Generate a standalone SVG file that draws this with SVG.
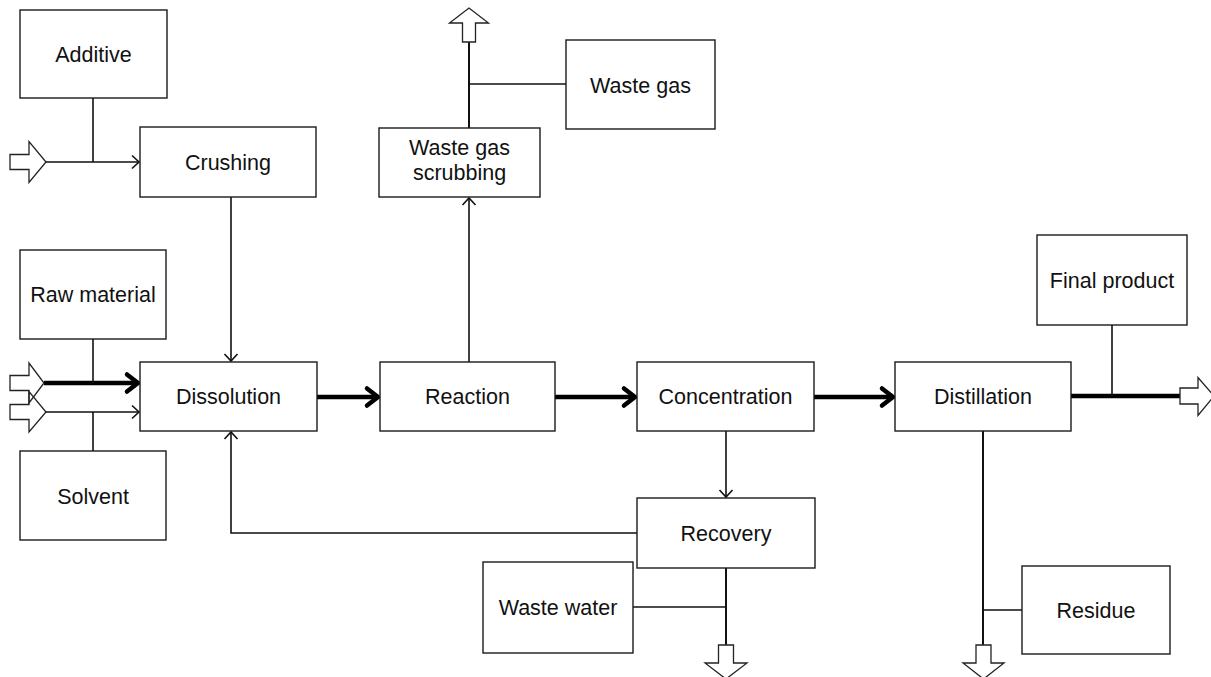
<svg xmlns="http://www.w3.org/2000/svg" width="1211" height="677" viewBox="0 0 1211 677">
  <style>
    .box { fill: #fff; stroke: #1a1a1a; stroke-width: 1.4; }
    .lbl { font-family: "Liberation Sans", Arial, sans-serif; font-size: 21.5px; fill: #111; text-anchor: middle; }
    .thin { fill: none; stroke: #111; stroke-width: 1.6; }
    .thick { fill: none; stroke: #000; stroke-width: 4.5; }
    .blk { fill: none; stroke: #222; stroke-width: 1.3; stroke-linejoin: miter; }
  </style>
  <defs>
    <marker id="ah" markerUnits="userSpaceOnUse" viewBox="-12 -10 14 20" refX="0" refY="0" markerWidth="14" markerHeight="20" orient="auto">
      <path d="M-7,-6.5 L0,0 L-7,6.5" fill="none" stroke="#111" stroke-width="1.6"/>
    </marker>
    <marker id="ahb" markerUnits="userSpaceOnUse" viewBox="-16 -12 20 24" refX="0" refY="0" markerWidth="20" markerHeight="24" orient="auto">
      <path d="M-11,-8.5 L0,0 L-11,8.5" fill="none" stroke="#000" stroke-width="4.5" stroke-linecap="round" stroke-linejoin="round"/>
    </marker>
  </defs>

  <!-- connectors -->
  <g id="connectors">
    <!-- inputs on the left -->
    <line class="thin" x1="46" y1="162" x2="139" y2="162" marker-end="url(#ah)"/>
    <line class="thin" x1="93" y1="98" x2="93" y2="162"/>
    <line class="thick" x1="44" y1="383" x2="138" y2="383" marker-end="url(#ahb)"/>
    <line class="thin" x1="93" y1="339" x2="93" y2="383"/>
    <line class="thin" x1="46" y1="412" x2="139" y2="412" marker-end="url(#ah)"/>
    <line class="thin" x1="93" y1="412" x2="93" y2="451"/>
    <!-- crushing to dissolution -->
    <line class="thin" x1="231" y1="197" x2="231" y2="361" marker-end="url(#ah)"/>
    <!-- main flow -->
    <line class="thick" x1="317" y1="397" x2="378" y2="397" marker-end="url(#ahb)"/>
    <line class="thick" x1="555" y1="397" x2="635" y2="397" marker-end="url(#ahb)"/>
    <line class="thick" x1="814" y1="397" x2="893" y2="397" marker-end="url(#ahb)"/>
    <line class="thick" x1="1071" y1="396" x2="1180" y2="396"/>
    <line class="thin" x1="1112" y1="325" x2="1112" y2="396"/>
    <!-- waste gas path -->
    <line class="thin" x1="469" y1="362" x2="469" y2="198" marker-end="url(#ah)"/>
    <line class="thin" x1="469" y1="128" x2="469" y2="42" style="stroke-width:2"/>
    <line class="thin" x1="469" y1="84" x2="566" y2="84"/>
    <!-- concentration to recovery -->
    <line class="thin" x1="726" y1="431" x2="726" y2="497" marker-end="url(#ah)"/>
    <!-- recycle back to dissolution -->
    <polyline class="thin" points="637,533 231,533 231,432" marker-end="url(#ah)"/>
    <!-- waste water out -->
    <line class="thin" x1="726" y1="568" x2="726" y2="645" style="stroke-width:2"/>
    <line class="thin" x1="633" y1="607" x2="726" y2="607"/>
    <!-- residue out -->
    <line class="thin" x1="983" y1="431" x2="983" y2="645" style="stroke-width:2"/>
    <line class="thin" x1="983" y1="610" x2="1022" y2="610"/>

    <!-- hollow block arrows -->
    <polygon class="blk" points="10,154.5 29,154.5 29,141.5 46,162 29,182.5 29,169.5 10,169.5"/>
    <polygon class="blk" points="10,375.5 29,375.5 29,363 44,383 29,403 29,390.5 10,390.5"/>
    <polygon class="blk" points="10,404.5 29,404.5 29,391.5 46,412 29,432 29,419.5 10,419.5"/>
    <polygon class="blk" points="462.5,42 475.5,42 475.5,23 488.5,23 469,8 449.5,23 462.5,23"/>
    <polygon class="blk" points="718.5,645 733.5,645 733.5,663 747,663 726,679 705,663 718.5,663"/>
    <polygon class="blk" points="976,645 991,645 991,663 1004,663 983.5,679 963,663 976,663"/>
    <polygon class="blk" points="1180,388 1198,388 1198,377.5 1214,396 1198,415.5 1198,404 1180,404"/>
  </g>

  <g id="additive">
    <rect class="box" x="20" y="10" width="147" height="88"/>
    <text class="lbl" x="93.5" y="61.5">Additive</text>
  </g>
  <g id="crushing">
    <rect class="box" x="140" y="127" width="176" height="70"/>
    <text class="lbl" x="228" y="169.5">Crushing</text>
  </g>
  <g id="waste-gas-scrubbing">
    <rect class="box" x="379" y="128" width="161" height="69"/>
    <text class="lbl" x="459.5" y="155">Waste gas</text>
    <text class="lbl" x="459.5" y="180">scrubbing</text>
  </g>
  <g id="waste-gas">
    <rect class="box" x="566" y="40" width="149" height="89"/>
    <text class="lbl" x="640.5" y="92.5">Waste gas</text>
  </g>
  <g id="raw-material">
    <rect class="box" x="20" y="250" width="146" height="89"/>
    <text class="lbl" x="93" y="302">Raw material</text>
  </g>
  <g id="solvent">
    <rect class="box" x="20" y="451" width="146" height="89"/>
    <text class="lbl" x="93" y="503.5">Solvent</text>
  </g>
  <g id="dissolution">
    <rect class="box" x="140" y="362" width="177" height="69"/>
    <text class="lbl" x="228.5" y="404">Dissolution</text>
  </g>
  <g id="reaction">
    <rect class="box" x="380" y="362" width="175" height="69"/>
    <text class="lbl" x="467.5" y="404">Reaction</text>
  </g>
  <g id="concentration">
    <rect class="box" x="637" y="362" width="177" height="69"/>
    <text class="lbl" x="725.5" y="404">Concentration</text>
  </g>
  <g id="distillation">
    <rect class="box" x="895" y="362" width="176" height="69"/>
    <text class="lbl" x="983" y="404">Distillation</text>
  </g>
  <g id="final-product">
    <rect class="box" x="1037" y="235" width="150" height="90"/>
    <text class="lbl" x="1112" y="287.5">Final product</text>
  </g>
  <g id="recovery">
    <rect class="box" x="637" y="498" width="178" height="70"/>
    <text class="lbl" x="726" y="540.5">Recovery</text>
  </g>
  <g id="waste-water">
    <rect class="box" x="483" y="562" width="150" height="91"/>
    <text class="lbl" x="558" y="614.5">Waste water</text>
  </g>
  <g id="residue">
    <rect class="box" x="1022" y="566" width="148" height="88"/>
    <text class="lbl" x="1096" y="617.5">Residue</text>
  </g>
</svg>
